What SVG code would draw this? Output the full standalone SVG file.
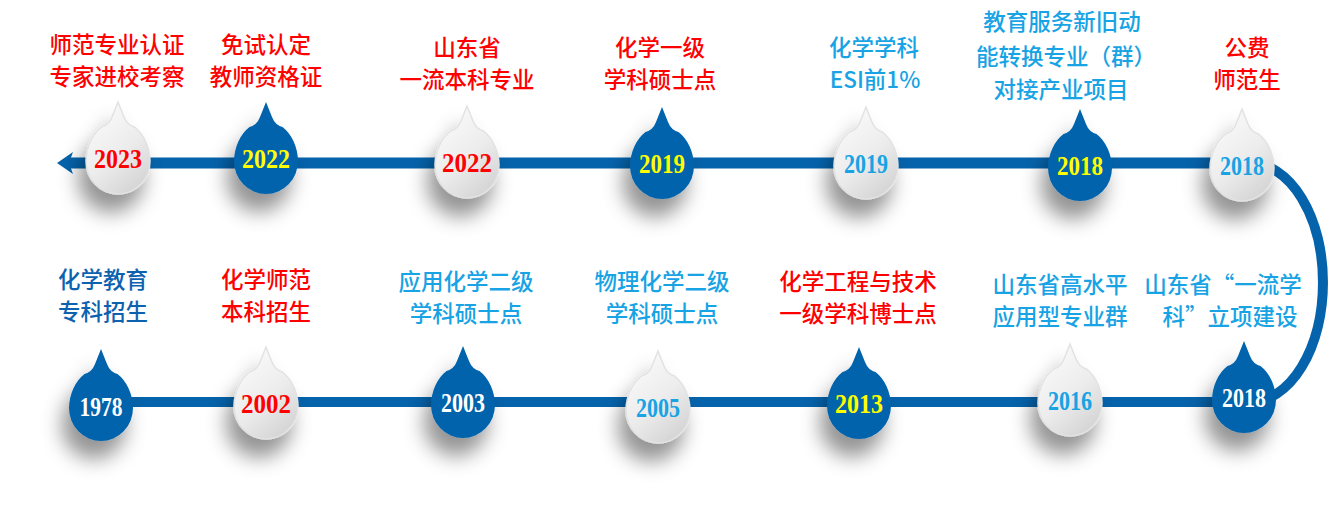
<svg xmlns="http://www.w3.org/2000/svg" xmlns:xlink="http://www.w3.org/1999/xlink" width="1331" height="529" viewBox="0 0 1331 529">
<defs>
<style>
.lbl{font-family:"Noto Sans CJK SC","Noto Sans",sans-serif;font-size:22.5px;font-weight:500;text-anchor:middle}
.red{fill:#ff0000}
.lb{fill:#17a3e4}
.db{fill:#0d62b0}
.yr{font-family:"Liberation Serif",serif;font-weight:bold;font-size:28px;text-anchor:middle}
.yel{fill:#ffff00}
.wh{fill:#ffffff}
.bdrop{fill:#0563ab}
.wdrop{fill:url(#wg);stroke:#e2e2e2;stroke-width:1.5}
.conn{stroke:#0563ab;fill:none}
</style>
<linearGradient id="wg" x1="0.2" y1="0" x2="0.8" y2="1">
<stop offset="0" stop-color="#fbfbfb"/>
<stop offset="0.55" stop-color="#ececec"/>
<stop offset="1" stop-color="#d2d2d2"/>
</linearGradient>
<filter id="sh" x="-80%" y="-60%" width="260%" height="240%">
<feDropShadow dx="-7" dy="18" stdDeviation="10" flood-color="#000" flood-opacity="0.42"/>
</filter>
<path id="drop" d="M0 -56 L6 -41 Q9 -33 16.5 -31 A32 41 0 0 1 32 3 A32 33 0 0 1 -32 3 A32 41 0 0 1 -16.5 -31 Q-9 -33 -6 -41 Z"/>
</defs>
<rect width="1331" height="529" fill="#ffffff"/>

<g id="connectors">
<line class="conn" x1="68" y1="163" x2="1250" y2="163" stroke-width="11"/>
<path d="M57 163 L73 152 L69 163 L73 174 Z" fill="#0563ab"/>
<line class="conn" x1="101" y1="402" x2="1250" y2="402" stroke-width="10"/>
<path class="conn" d="M1250 163 A73 119.5 0 0 1 1250 402" stroke-width="10"/>
</g>

<g id="n2023">
<use xlink:href="#drop" class="wdrop" transform="translate(118,158)" filter="url(#sh)"/>
<text class="yr red" x="118" y="168" textLength="48" lengthAdjust="spacingAndGlyphs">2023</text>
<text class="lbl red" x="117" y="53">师范专业认证</text>
<text class="lbl red" x="117" y="85">专家进校考察</text>
</g>

<g id="n2022a">
<use xlink:href="#drop" class="bdrop" transform="translate(266,158)" filter="url(#sh)"/>
<text class="yr yel" x="266" y="168" textLength="48" lengthAdjust="spacingAndGlyphs">2022</text>
<text class="lbl red" x="266" y="53">免试认定</text>
<text class="lbl red" x="266" y="85">教师资格证</text>
</g>

<g id="n2022b">
<use xlink:href="#drop" class="wdrop" transform="translate(467,162)" filter="url(#sh)"/>
<text class="yr red" x="467" y="172" textLength="50" lengthAdjust="spacingAndGlyphs">2022</text>
<text class="lbl red" x="467" y="56">山东省</text>
<text class="lbl red" x="467" y="88">一流本科专业</text>
</g>

<g id="n2019a">
<use xlink:href="#drop" class="bdrop" transform="translate(662,163)" filter="url(#sh)"/>
<text class="yr yel" x="662" y="173" textLength="46" lengthAdjust="spacingAndGlyphs">2019</text>
<text class="lbl red" x="660" y="56">化学一级</text>
<text class="lbl red" x="660" y="88">学科硕士点</text>
</g>

<g id="n2019b">
<use xlink:href="#drop" class="wdrop" transform="translate(866,163)" filter="url(#sh)"/>
<text class="yr lb" x="866" y="173" textLength="44" lengthAdjust="spacingAndGlyphs">2019</text>
<text class="lbl lb" x="874" y="56">化学学科</text>
<text class="lbl lb" x="875" y="88">ESI前1%</text>
</g>

<g id="n2018a">
<use xlink:href="#drop" class="bdrop" transform="translate(1080,165)" filter="url(#sh)"/>
<text class="yr yel" x="1080" y="175" textLength="46" lengthAdjust="spacingAndGlyphs">2018</text>
<text class="lbl lb" x="1062" y="30">教育服务新旧动</text>
<text class="lbl lb" x="1066" y="65">能转换专业（群）</text>
<text class="lbl lb" x="1061" y="98">对接产业项目</text>
</g>

<g id="n2018b">
<use xlink:href="#drop" class="wdrop" transform="translate(1242,165)" filter="url(#sh)"/>
<text class="yr lb" x="1242" y="175" textLength="44" lengthAdjust="spacingAndGlyphs">2018</text>
<text class="lbl red" x="1247" y="56">公费</text>
<text class="lbl red" x="1247" y="88">师范生</text>
</g>

<g id="n1978">
<use xlink:href="#drop" class="bdrop" transform="translate(101,405)" filter="url(#sh)"/>
<text class="yr wh" x="101" y="416" textLength="43" lengthAdjust="spacingAndGlyphs">1978</text>
<text class="lbl db" x="103" y="288">化学教育</text>
<text class="lbl db" x="103" y="320">专科招生</text>
</g>

<g id="n2002">
<use xlink:href="#drop" class="wdrop" transform="translate(266,403)" filter="url(#sh)"/>
<text class="yr red" x="266" y="413" textLength="50" lengthAdjust="spacingAndGlyphs">2002</text>
<text class="lbl red" x="266" y="288">化学师范</text>
<text class="lbl red" x="266" y="320">本科招生</text>
</g>

<g id="n2003">
<use xlink:href="#drop" class="bdrop" transform="translate(463,402)" filter="url(#sh)"/>
<text class="yr wh" x="463" y="412" textLength="44" lengthAdjust="spacingAndGlyphs">2003</text>
<text class="lbl lb" x="466" y="290">应用化学二级</text>
<text class="lbl lb" x="466" y="322">学科硕士点</text>
</g>

<g id="n2005">
<use xlink:href="#drop" class="wdrop" transform="translate(658,407)" filter="url(#sh)"/>
<text class="yr lb" x="658" y="417" textLength="44" lengthAdjust="spacingAndGlyphs">2005</text>
<text class="lbl lb" x="662" y="290">物理化学二级</text>
<text class="lbl lb" x="662" y="322">学科硕士点</text>
</g>

<g id="n2013">
<use xlink:href="#drop" class="bdrop" transform="translate(859,403)" filter="url(#sh)"/>
<text class="yr yel" x="859" y="413" textLength="48" lengthAdjust="spacingAndGlyphs">2013</text>
<text class="lbl red" x="858" y="290">化学工程与技术</text>
<text class="lbl red" x="858" y="322">一级学科博士点</text>
</g>

<g id="n2016">
<use xlink:href="#drop" class="wdrop" transform="translate(1070,400)" filter="url(#sh)"/>
<text class="yr lb" x="1070" y="410" textLength="44" lengthAdjust="spacingAndGlyphs">2016</text>
<text class="lbl lb" x="1060" y="293">山东省高水平</text>
<text class="lbl lb" x="1060" y="325">应用型专业群</text>
</g>

<g id="n2018c">
<use xlink:href="#drop" class="bdrop" transform="translate(1244,397)" filter="url(#sh)"/>
<text class="yr wh" x="1244" y="407" textLength="44" lengthAdjust="spacingAndGlyphs">2018</text>
<text class="lbl lb" x="1223" y="293">山东省“一流学</text>
<text class="lbl lb" x="1230" y="325">科”立项建设</text>
</g>
</svg>
